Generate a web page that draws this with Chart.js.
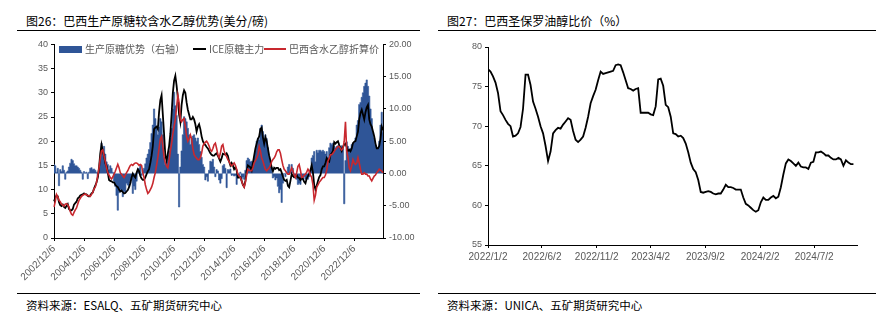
<!DOCTYPE html>
<html>
<head>
<meta charset="utf-8">
<script src="https://cdn.jsdelivr.net/npm/chart.js@4.4.0/dist/chart.umd.min.js"></script>
<style>
    body { margin: 0; width: 890px; height: 335px; background: #fff; position: relative; overflow: hidden;
           font-family: "Noto Sans CJK SC", sans-serif; }
    .title { position: absolute; top: 13px; font-size: 12px; line-height: 16px; color: #000; white-space: nowrap; }
    .source { position: absolute; top: 297px; font-size: 11.5px; line-height: 16px; color: #000; white-space: nowrap; }
    .rule { position: absolute; height: 0; border-top: 1px solid #000; }
    canvas { position: absolute; }
    .legend { position: absolute; top: 43px; left: 59px; height: 12px; font-size: 10px; line-height: 12px; color: #595959; white-space: nowrap; }
    .legend span { position: absolute; top: 0; }
    .legend i { position: absolute; display: block; }
</style>
</head>
<body>

<div class="title" style="left:26px">图26：巴西生产原糖较含水乙醇优势(美分/磅)</div>
<div class="rule" style="left:17px; top:30px; width:403px"></div>
<div class="title" style="left:447px">图27：巴西圣保罗油醇比价（%）</div>
<div class="rule" style="left:438px; top:30px; width:438px"></div>

<canvas id="sugarChart" width="430" height="256" style="left:0; top:36px"></canvas>
<canvas id="ratioChart" width="440" height="256" style="left:440px; top:36px"></canvas>

<div class="legend">
    <i style="left:0; top:3px; width:23px; height:7px; background:#2F5597"></i>
    <span style="left:26px">生产原糖优势（右轴）</span>
    <i style="left:134px; top:5px; width:13px; height:2px; background:#000"></i>
    <span style="left:150px">ICE原糖主力</span>
    <i style="left:205px; top:5px; width:22px; height:2px; background:#C8282E"></i>
    <span style="left:230px">巴西含水乙醇折算价</span>
</div>

<div class="rule" style="left:17px; top:293px; width:403px"></div>
<div class="source" style="left:26px">资料来源：ESALQ、五矿期货研究中心</div>
<div class="rule" style="left:438px; top:293px; width:438px"></div>
<div class="source" style="left:447px">资料来源：UNICA、五矿期货研究中心</div>

<script>
(function () {

    // monthly series, first month 2002/12
    var sugarStartYear = 2002;
    var sugarStartMonth = 12;
    var sugarTickLabels = ["2002/12/6", "2004/12/6", "2006/12/6", "2008/12/6", "2010/12/6", "2012/12/6",
        "2014/12/6", "2016/12/6", "2018/12/6", "2020/12/6", "2022/12/6"];

    // 生产原糖优势, right axis
    var rawSugarAdvantage = [
        1.4, 1.2, 0.2, 0.8, -1.9, 0.6, 0.3, 1.2, 0.5, -0.9, 0.2, 0.4,
        1.0, 1.6, 2.2, 2.0, 1.5, 1.2, 1.2, 1.0, 0.8, 0.5, 0.2, -0.9,
        0.3, 0.1, 0.2, -0.8, 0.2, 0.8, 0.9, 0.6, 0.7, 0.5, 0.2, -0.5,
        0.8, 2.5, 4.7, 3.5, 4.2, 3.0, 1.8, 1.4, 0.6, 1.2, 0.8, 0.2,
        -1.2, -2.0, -3.4, -5.7, -3.0, -2.5, -2.6, -3.6, -2.8, -3.0, -1.5, -1.8,
        -2.0, -1.5, -1.0, -3.1, -2.0, -2.5, -1.2, 0.4, 0.8, 1.4, -0.3, 0.5,
        0.8, 1.5, 2.4, 3.0, 3.7, 4.8, 6.2, 7.5, 10.0, 8.5, 7.0, 6.0,
        7.2, 8.5, 8.0, 6.0, 2.5, 1.4, 1.8, 2.9, 3.5, 5.5, 7.0, 10.0,
        12.6, 10.5, 9.0, 3.0, -5.2, 1.0, 3.5, 6.0, 8.8, 8.5, 8.0, 7.0,
        6.0, 4.5, 5.5, 5.8, 6.0, 5.5, 5.0, 5.5, 4.5, 3.4, 2.5, 1.4,
        1.0, -1.0, -0.5, -1.2, 0.5, 1.9, 1.8, 2.2, 1.0, -0.5, 0.6, 0.4,
        -1.0, -1.5, -0.8, 1.2, 1.4, 0.8, -2.2, 0.6, 0.5, 0.7, -0.3, -0.2,
        -0.4, -0.3, -1.7, -0.5, -0.3, 0.2, -0.9, -0.6, -0.9, 0.5, 2.0, 2.4,
        2.2, 1.8, 1.9, 1.4, 2.5, 3.5, 5.0, 5.4, 5.2, 7.0, 7.5, 6.5,
        5.4, 6.0, 5.4, 4.0, 2.5, 1.9, 1.0, -0.7, -0.5, -1.0, -0.7, -2.0,
        -3.0, -2.5, -4.5, -1.5, 0.0, -0.5, 0.2, 1.0, 1.4, 0.2, 1.4, 0.8,
        -0.7, -0.5, -0.9, -1.7, -1.5, -1.7, -1.0, -0.9, -0.5, -0.9, -0.8, -0.9,
        -0.5, 0.5, 2.4, 2.8, 3.4, 1.8, 3.6, 3.2, 3.6, 3.6, 3.4, 3.6,
        3.4, 3.0, 3.4, 2.5, 4.0, 4.7, 4.5, 4.7, 4.2, 4.0, 4.2, 4.3,
        4.2, 4.0, 4.3, 3.8, -4.7, 2.0, 4.9, 4.2, 3.8, 3.9, 4.5, 4.7,
        4.8, 5.5, 7.5, 8.2, 10.7, 11.0, 11.8, 12.5, 13.5, 14.0, 14.5, 13.5,
        12.0, 10.0, 8.5, 6.4, 5.5, 4.4, 4.0, 3.9, 5.0, 7.5, 9.5, 6.4
    ];

    // ICE原糖主力, cents/lb
    var iceRawSugar = [
        7.6, 8.3, 8.8, 8.6, 7.4, 6.8, 6.6, 6.9, 6.4, 6.2, 6.6, 7.0,
        6.0, 5.7, 5.7, 6.0, 6.9, 7.2, 7.5, 8.2, 8.4, 8.8, 8.9, 9.0,
        9.2, 9.0, 9.0, 8.7, 8.6, 8.8, 9.2, 9.4, 10.2, 10.8, 11.5, 12.5,
        14.5, 17.5, 19.3, 18.0, 17.0, 15.5, 14.8, 13.5, 12.0, 11.8, 11.7, 11.5,
        11.5, 11.0, 10.7, 10.5, 10.0, 9.6, 9.8, 9.5, 9.2, 9.3, 9.6, 9.9,
        10.5, 11.3, 12.5, 13.3, 12.8, 12.5, 13.5, 14.2, 13.8, 12.8, 12.3, 12.0,
        12.0, 12.5, 13.2, 13.8, 14.2, 15.5, 17.0, 19.0, 22.5, 22.8, 23.0, 22.5,
        26.0, 28.5, 29.5, 25.5, 21.5, 17.0, 16.0, 17.5, 19.0, 21.5, 25.5, 30.0,
        32.5, 33.5, 31.5, 29.0, 25.5, 24.0, 27.5, 29.5, 30.5, 30.0, 28.0, 26.5,
        25.5, 24.5, 24.5, 25.0, 24.5, 23.5, 22.0, 23.0, 23.5, 22.5, 21.0, 20.0,
        19.5, 19.2, 18.8, 18.5, 18.0, 17.5, 17.2, 17.0, 17.0, 17.3, 17.5, 17.0,
        16.4, 15.8, 16.5, 17.4, 17.3, 17.2, 17.5, 17.0, 15.8, 15.0, 15.5, 15.0,
        14.2, 14.6, 14.0, 12.5, 12.5, 12.6, 11.8, 11.0, 10.6, 11.8, 13.8, 15.0,
        14.8, 14.6, 14.0, 15.5, 17.0, 18.5, 19.5, 20.5, 21.0, 22.5, 22.8, 20.8,
        19.5, 20.8, 20.0, 18.5, 17.0, 16.0, 14.5, 13.8, 14.5, 14.3, 14.5, 14.5,
        14.0, 14.2, 13.5, 12.7, 12.0, 11.8, 12.0, 10.8, 10.5, 11.8, 13.2, 12.8,
        12.6, 12.8, 13.0, 12.5, 12.4, 12.0, 12.5, 12.2, 11.6, 11.3, 12.3, 12.8,
        13.3, 14.0, 15.0, 13.5, 11.0, 10.0, 10.8, 11.8, 12.6, 13.0, 14.2, 14.8,
        14.8, 15.5, 16.5, 16.0, 15.8, 17.2, 17.5, 18.0, 19.8, 19.5, 19.8, 20.0,
        19.2, 18.6, 18.0, 18.8, 19.3, 19.5, 18.8, 18.0, 18.2, 17.9, 18.5, 19.6,
        19.9, 20.0, 21.0, 22.0, 24.5, 25.8, 26.5, 25.5, 24.5, 26.0, 27.0, 27.5,
        24.5, 23.5, 23.0, 22.0, 21.0, 19.5, 18.5, 18.5, 19.0, 20.5, 23.0, 22.3
    ];

    // 巴西含水乙醇折算价, cents/lb
    var ethanolEquivalent = [
        6.4, 7.5, 9.0, 8.5, 7.8, 7.5, 7.0, 6.8, 6.6, 7.0, 7.1, 6.8,
        6.4, 5.5, 4.9, 4.7, 5.3, 5.8, 6.2, 7.0, 7.8, 8.2, 8.6, 8.8,
        9.0, 9.1, 8.9, 8.7, 8.8, 8.6, 9.0, 9.4, 10.2, 10.5, 11.5, 13.0,
        14.5, 16.5, 18.0, 18.2, 17.0, 15.8, 14.5, 13.5, 13.0, 12.5, 12.2, 12.6,
        13.2, 13.8, 14.5, 15.2, 14.5, 13.5, 13.2, 12.8, 12.5, 13.0, 13.5, 13.9,
        14.5, 15.0, 15.2, 15.0, 15.3, 15.5, 15.5, 15.3, 15.0, 15.2, 15.0, 13.5,
        12.5, 11.0, 10.0, 9.2, 9.5, 10.0, 10.5, 11.3, 12.5, 13.5, 15.0, 16.6,
        18.5, 20.5, 21.0, 19.0, 16.6, 15.5, 14.8, 14.5, 16.0, 18.0, 19.5, 21.5,
        23.0, 24.5, 27.0, 29.5, 28.0, 24.5, 24.0, 24.5, 24.7, 23.0, 21.0, 20.0,
        20.5, 21.3, 20.5, 18.5, 17.2, 16.8, 16.5, 16.2, 16.2, 16.6, 17.5, 19.0,
        19.5, 19.8, 20.0, 19.6, 19.0, 18.2, 17.9, 18.5, 19.3, 19.6, 18.5, 17.2,
        16.6, 17.5, 19.0, 19.3, 18.0, 17.2, 16.8, 16.2, 15.8, 15.2, 14.9, 15.2,
        15.5, 15.0, 14.2, 13.2, 12.8, 12.5, 11.8, 11.0, 10.5, 11.5, 13.0, 14.2,
        14.0, 13.9, 13.9, 14.5, 15.5, 16.0, 16.5, 17.2, 18.9, 18.0, 16.5, 15.9,
        15.0, 14.2, 13.9, 14.2, 14.5, 15.0, 15.8, 16.2, 16.5, 17.0, 17.8, 18.2,
        18.2, 17.5, 16.2, 15.0, 14.2, 13.9, 13.5, 13.2, 13.2, 13.8, 14.5, 13.8,
        13.0, 12.5, 13.5, 14.8, 15.2, 14.0, 12.5, 12.6, 13.0, 13.2, 13.6, 14.2,
        13.8, 13.0, 12.5, 11.0, 7.8, 8.8, 10.5, 11.0, 11.5, 11.8, 12.2, 12.5,
        12.5, 13.0, 14.0, 15.9, 16.5, 17.2, 17.2, 17.5, 17.9, 18.3, 18.6, 18.9,
        18.9, 18.5, 18.2, 18.5, 20.0, 24.0, 18.0, 16.6, 14.5, 13.9, 15.0, 16.2,
        15.5, 15.2, 15.5, 16.6, 15.5, 14.2, 13.2, 13.2, 13.5, 13.2, 13.2, 12.8,
        12.8, 12.2, 11.8, 12.3, 12.8, 13.0, 13.5, 13.8, 14.2, 14.0, 13.8, 13.5
    ];

    // weekly series, first week 2022/1/2
    var ratioStart = "2022/1/2";
    var ratioEnd = "2024/10/30";
    var ratioTickLabels = ["2022/1/2", "2022/6/2", "2022/11/2", "2023/4/2", "2023/9/2", "2024/2/2", "2024/7/2"];
    var gasolineEthanolRatio = [
        77.2, 76.9, 76.3, 75.5, 74.2, 71.9, 71.4, 70.8, 70.3, 70.0,
        68.7, 68.8, 69.1, 69.9, 72.2, 76.5, 76.5, 75.2, 73.1, 72.2,
        71.2, 70.0, 69.1, 67.5, 65.6, 66.8, 69.1, 69.5, 69.8, 69.7,
        70.2, 70.6, 71.0, 70.8, 69.4, 68.3, 68.0, 68.3, 68.7, 69.8,
        71.2, 72.9, 73.8, 74.6, 75.8, 76.9, 76.6, 76.7, 76.8, 76.9,
        77.0, 77.7, 77.8, 77.7, 76.8, 75.8, 74.8, 74.7, 74.5, 74.7,
        74.8, 71.7, 71.7, 71.7, 71.7, 71.5, 71.4, 72.5, 75.9, 76.0,
        75.1, 72.7, 72.4, 71.2, 69.1, 69.0, 68.7, 68.8, 68.5, 67.8,
        66.7, 65.4, 64.6, 64.2, 63.2, 61.7, 61.6, 61.7, 61.8, 61.7,
        61.5, 61.4, 61.5, 61.5, 62.0, 62.6, 62.3, 62.3, 62.2, 62.0,
        62.0, 62.0, 61.0, 60.2, 60.0, 59.7, 59.4, 59.2, 59.4, 60.4,
        61.0, 60.7, 60.7, 61.0, 61.2, 60.9, 61.1, 62.3, 63.9, 65.3,
        65.8, 65.6, 65.3, 65.0, 65.4, 64.9, 64.8, 64.8, 64.6, 65.4,
        65.5, 66.7, 66.7, 66.8, 66.6, 66.3, 66.3, 66.0, 65.8, 65.8,
        66.0, 65.8, 65.0, 65.7, 65.4, 65.2, 65.2
    ];

    var labelColor = "#595959";
    var tickFont = { family: "'Liberation Sans', Arial, sans-serif", size: 9 };
    var dateFont = { family: "'Liberation Sans', Arial, sans-serif", size: 10 };

    var axisGrid = { display: true, drawOnChartArea: false, drawTicks: true, tickLength: 3, color: "#000" };
    var axisBorder = { display: true, color: "#000", width: 1 };

    function dayNumber(text) {
        var p = text.split("/");
        return Date.UTC(+p[0], +p[1] - 1, +p[2]) / 86400000;
    }

    function monthLabels(count) {
        var labels = [];
        for (var i = 0; i < count; i++) {
            var m = sugarStartMonth - 1 + i;
            labels.push((sugarStartYear + Math.floor(m / 12)) + "/" + (m % 12 + 1));
        }
        return labels;
    }

    Chart.defaults.animation = false;
    Chart.defaults.responsive = false;
    Chart.defaults.devicePixelRatio = 1;
    Chart.defaults.plugins.legend.display = false;
    Chart.defaults.plugins.tooltip.enabled = false;

    function initializeSugarChart() {
        var ctx = document.getElementById("sugarChart").getContext("2d");
        var tickEvery = 24;

        new Chart(ctx, {
            type: "line",
            data: {
                labels: monthLabels(iceRawSugar.length),
                datasets: [
                    {
                        label: "巴西含水乙醇折算价",
                        data: ethanolEquivalent,
                        borderColor: "#C8282E",
                        borderWidth: 1.6,
                        pointRadius: 0,
                        tension: 0,
                        yAxisID: "y",
                        order: 1
                    },
                    {
                        label: "ICE原糖主力",
                        data: iceRawSugar,
                        borderColor: "#000000",
                        borderWidth: 1.8,
                        pointRadius: 0,
                        tension: 0,
                        yAxisID: "y",
                        order: 2
                    },
                    {
                        // monthly columns drawn as a stepped area so they read as one solid band
                        label: "生产原糖优势（右轴）",
                        data: rawSugarAdvantage,
                        borderColor: "#2F5597",
                        backgroundColor: "#2F5597",
                        borderWidth: 0.6,
                        pointRadius: 0,
                        stepped: "middle",
                        fill: "origin",
                        yAxisID: "y1",
                        order: 3
                    }
                ]
            },
            options: {
                layout: { padding: { top: 5, left: 0, right: 0, bottom: 0 } },
                scales: {
                    x: {
                        type: "category",
                        offset: false,
                        grid: {
                            display: true,
                            offset: false,
                            drawOnChartArea: false,
                            tickLength: 3,
                            color: function (c) { return c.index % tickEvery === 0 ? "#000" : "rgba(0,0,0,0)"; }
                        },
                        border: axisBorder,
                        ticks: {
                            autoSkip: false,
                            maxRotation: 45,
                            minRotation: 45,
                            padding: 2,
                            color: labelColor,
                            font: dateFont,
                            callback: function (value, index) {
                                return index % tickEvery === 0 ? sugarTickLabels[index / tickEvery] : "";
                            }
                        },
                        afterFit: function (scale) { scale.height = 54; }
                    },
                    y: {
                        position: "left",
                        min: 0,
                        max: 40,
                        grid: axisGrid,
                        border: axisBorder,
                        ticks: { stepSize: 5, padding: 3, color: labelColor, font: tickFont },
                        afterFit: function (scale) { scale.width = 54; }
                    },
                    y1: {
                        position: "right",
                        min: -10,
                        max: 20,
                        grid: axisGrid,
                        border: axisBorder,
                        ticks: {
                            stepSize: 5, padding: 3, color: labelColor, font: tickFont,
                            callback: function (v) { return v.toFixed(2); }
                        },
                        afterFit: function (scale) { scale.width = 47; }
                    }
                }
            }
        });
    }

    function initializeRatioChart() {
        var ctx = document.getElementById("ratioChart").getContext("2d");
        var start = dayNumber(ratioStart);
        var tickDays = ratioTickLabels.map(function (t) { return dayNumber(t) - start; });
        var points = gasolineEthanolRatio.map(function (v, i) { return { x: i * 7, y: v }; });

        new Chart(ctx, {
            type: "line",
            data: {
                datasets: [{
                    label: "油醇比价",
                    data: points,
                    borderColor: "#000000",
                    borderWidth: 1.8,
                    pointRadius: 0,
                    tension: 0
                }]
            },
            options: {
                layout: { padding: { top: 11, left: 0, right: 23, bottom: 0 } },
                scales: {
                    x: {
                        type: "linear",
                        min: 0,
                        max: dayNumber(ratioEnd) - start,
                        grid: axisGrid,
                        border: axisBorder,
                        afterBuildTicks: function (scale) {
                            scale.ticks = tickDays.map(function (d) { return { value: d }; });
                        },
                        ticks: {
                            padding: 3,
                            maxRotation: 0,
                            color: labelColor,
                            font: dateFont,
                            callback: function (value, index) { return ratioTickLabels[index]; }
                        },
                        afterFit: function (scale) { scale.height = 47; }
                    },
                    y: {
                        min: 55,
                        max: 80,
                        grid: axisGrid,
                        border: axisBorder,
                        ticks: { stepSize: 5, padding: 3, color: labelColor, font: tickFont },
                        afterFit: function (scale) { scale.width = 48; }
                    }
                }
            }
        });
    }

    initializeSugarChart();
    initializeRatioChart();

})();
</script>
</body>
</html>
